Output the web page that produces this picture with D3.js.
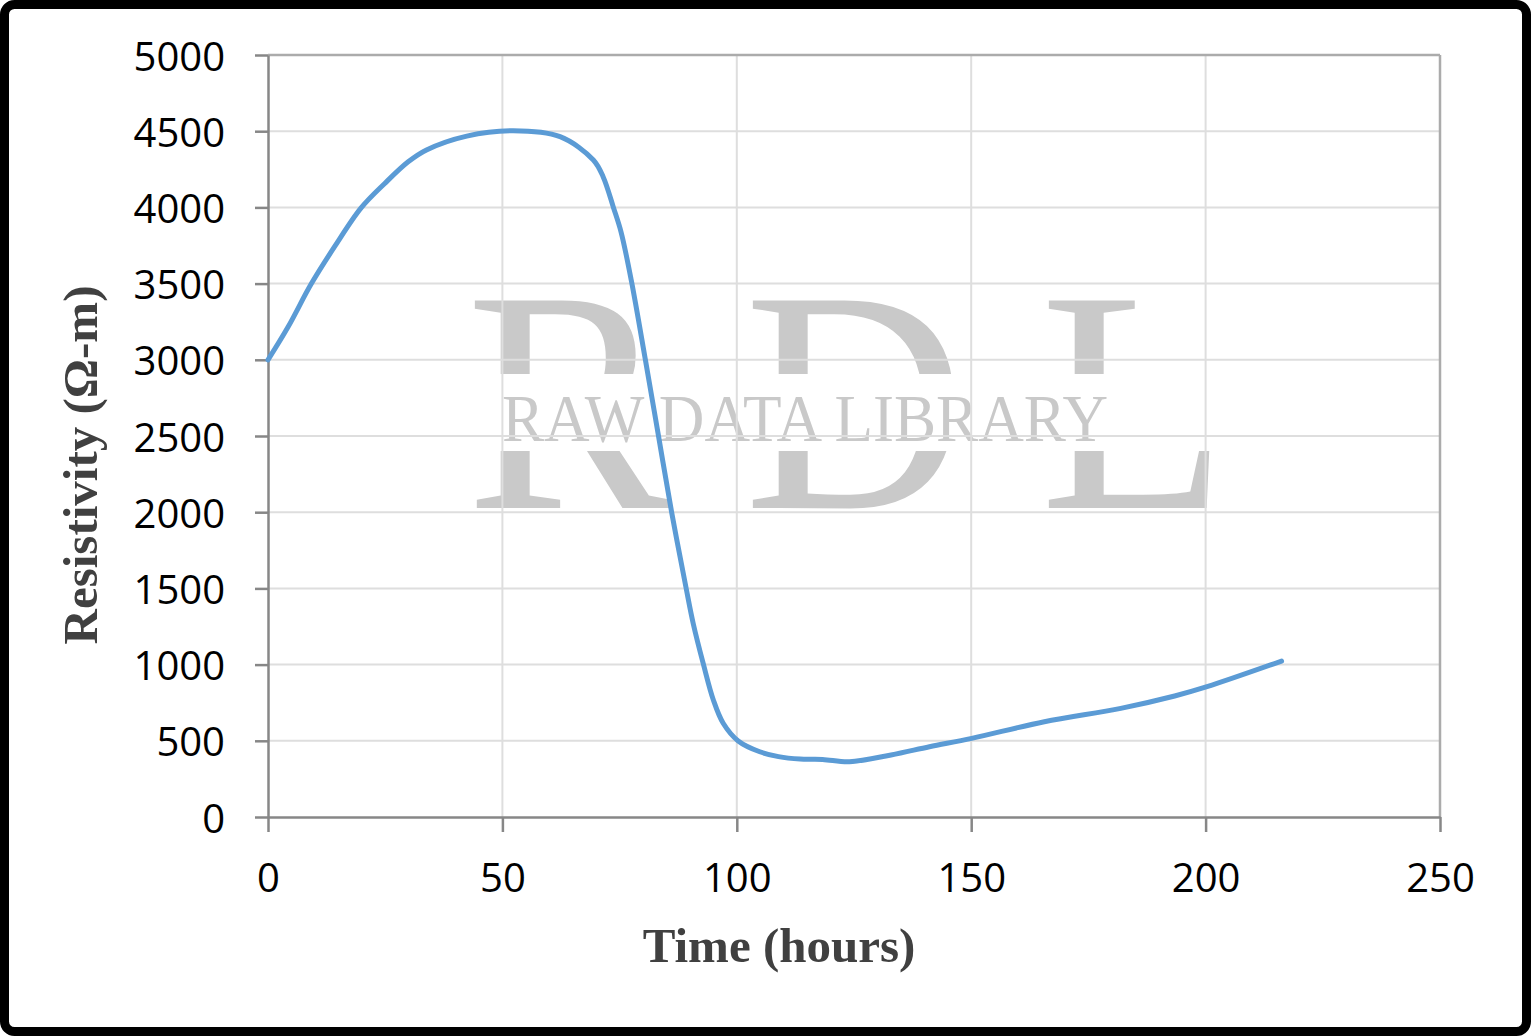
<!DOCTYPE html>
<html>
<head>
<meta charset="utf-8">
<script src="https://cdn.jsdelivr.net/npm/d3@7/dist/d3.min.js"></script>
<style>
  html, body { margin: 0; padding: 0; background: #fff; }
  svg { display: block; }
</style>
</head>
<body>
<svg id="chart" width="1531" height="1036"></svg>
<script>
// ---- Data ----
const timeHours = [0, 4.3, 9.2, 14.2, 19.9, 24.9, 29.9, 33.8, 42.4, 52.3, 62.3, 69.4, 71.5, 73.7, 75.3, 77.5, 80.5, 83.3, 86.1, 89.2, 90.7, 92.9, 95.0, 97.1, 100.3, 104.9, 108.9, 113.5, 118.3, 124.0, 132.9, 141.1, 150.1, 165.6, 181.9, 193.4, 200.3, 216.2];
const resistivity = [3000, 3217, 3497, 3742, 3998, 4157, 4299, 4377, 4468, 4503, 4464, 4311, 4200, 3998, 3840, 3520, 3000, 2500, 2000, 1500, 1270, 1000, 768, 615, 499, 428, 396, 380, 378, 363, 407, 461, 516, 625, 713, 794, 855, 1023];
const xTicks = [0, 50, 100, 150, 200, 250];
const yTicks = [0, 500, 1000, 1500, 2000, 2500, 3000, 3500, 4000, 4500, 5000];
const xTitle = "Time (hours)";
const yTitle = "Resistivity (\u03A9-m)";

const svg = d3.select("#chart");
const W = 1531, H = 1036;
const plot = { left: 268, right: 1440, top: 55, bottom: 817 };

const x = d3.scaleLinear().domain([0, 250]).range([plot.left, plot.right]);
const y = d3.scaleLinear().domain([0, 5000]).range([plot.bottom, plot.top]);

svg.append("rect").attr("width", W).attr("height", H).attr("fill", "#fff");

// ---- Watermark ----
const defs = svg.append("defs");
const clip = defs.append("clipPath").attr("id", "wmclip");
clip.append("rect").attr("x", 0).attr("y", 0).attr("width", W).attr("height", 374);
clip.append("rect").attr("x", 0).attr("y", 451).attr("width", W).attr("height", H - 451);

const wm = svg.append("g").attr("clip-path", "url(#wmclip)");
const bigLetters = [["R", 466], ["D", 744], ["L", 1040]];
bigLetters.forEach(([ch, px]) => {
  wm.append("text")
    .attr("transform", `translate(${px},508) scale(0.97,1)`)
    .attr("font-family", "'Liberation Serif', 'Times New Roman', serif")
    .attr("font-size", 317)
    .attr("fill", "#c9c9c9")
    .text(ch);
});
svg.append("text")
  .attr("x", 502).attr("y", 441)
  .attr("font-family", "'Liberation Serif', 'Times New Roman', serif")
  .attr("font-size", 67)
  .attr("fill", "#c9c9c9")
  .attr("textLength", 606)
  .attr("lengthAdjust", "spacingAndGlyphs")
  .text("RAW DATA LIBRARY");

// ---- Gridlines ----
const grid = svg.append("g");
grid.selectAll("line.h").data(yTicks.filter(d => d > 0 && d < 5000)).enter().append("line")
  .attr("x1", plot.left).attr("x2", plot.right)
  .attr("y1", d => y(d)).attr("y2", d => y(d))
  .attr("stroke", "#dedede").attr("stroke-width", 2);
grid.selectAll("line.v").data(xTicks.filter(d => d > 0 && d < 250)).enter().append("line")
  .attr("y1", plot.top).attr("y2", plot.bottom)
  .attr("x1", d => x(d)).attr("x2", d => x(d))
  .attr("stroke", "#dedede").attr("stroke-width", 2);

svg.append("line").attr("x1", plot.left).attr("x2", plot.right).attr("y1", plot.top).attr("y2", plot.top)
  .attr("stroke", "#ababab").attr("stroke-width", 2.5);
svg.append("line").attr("x1", plot.right).attr("x2", plot.right).attr("y1", plot.top).attr("y2", plot.bottom)
  .attr("stroke", "#ababab").attr("stroke-width", 2.5);

// ---- Axes ----
const axisColor = "#878787";
const fontTick = "'Open Sans', 'Noto Sans', sans-serif";

const xAxis = d3.axisBottom(x).tickValues(xTicks).tickSize(15).tickSizeOuter(0).tickFormat(d3.format("d"));
const gx = svg.append("g").attr("transform", `translate(0,${plot.bottom})`).call(xAxis);
gx.select(".domain").attr("stroke", axisColor).attr("stroke-width", 2.5);
gx.selectAll(".tick line").attr("stroke", axisColor).attr("stroke-width", 2.5);
gx.selectAll(".tick text")
  .attr("y", 75).attr("dy", 0)
  .attr("font-family", fontTick).attr("font-size", 40).attr("fill", "#000");

const yAxis = d3.axisLeft(y).tickValues(yTicks).tickSize(13).tickSizeOuter(0).tickFormat(d3.format("d"));
const gy = svg.append("g").attr("transform", `translate(${plot.left},0)`).call(yAxis);
gy.select(".domain").attr("stroke", axisColor).attr("stroke-width", 2.5);
gy.selectAll(".tick line").attr("stroke", axisColor).attr("stroke-width", 2.5);
gy.selectAll(".tick text")
  .attr("x", -43).attr("dy", 15)
  .attr("font-family", fontTick).attr("font-size", 40).attr("fill", "#000");

// ---- Line ----
const line = d3.line().x((d, i) => x(timeHours[i])).y(d => y(d)).curve(d3.curveCatmullRom.alpha(0.5));
svg.append("path")
  .datum(resistivity)
  .attr("d", line)
  .attr("fill", "none")
  .attr("stroke", "#5b9bd5")
  .attr("stroke-width", 5)
  .attr("stroke-linecap", "round")
  .attr("stroke-linejoin", "round");

// ---- Titles ----
svg.append("text")
  .attr("x", (641 + 917) / 2).attr("y", 962)
  .attr("text-anchor", "middle")
  .attr("font-family", "'Liberation Serif', 'Times New Roman', serif")
  .attr("font-weight", "bold")
  .attr("font-size", 49)
  .attr("fill", "#404040")
  .text(xTitle);

svg.append("text")
  .attr("transform", "translate(97,465) rotate(-90)")
  .attr("text-anchor", "middle")
  .attr("font-family", "'Liberation Serif', 'Times New Roman', serif")
  .attr("font-weight", "bold")
  .attr("font-size", 49)
  .attr("fill", "#404040")
  .text(yTitle);

// ---- Outer border ----
svg.append("rect")
  .attr("x", 4.5).attr("y", 4.5).attr("width", W - 9).attr("height", H - 9)
  .attr("rx", 10).attr("ry", 10)
  .attr("fill", "none").attr("stroke", "#000").attr("stroke-width", 9);
</script>
</body>
</html>
